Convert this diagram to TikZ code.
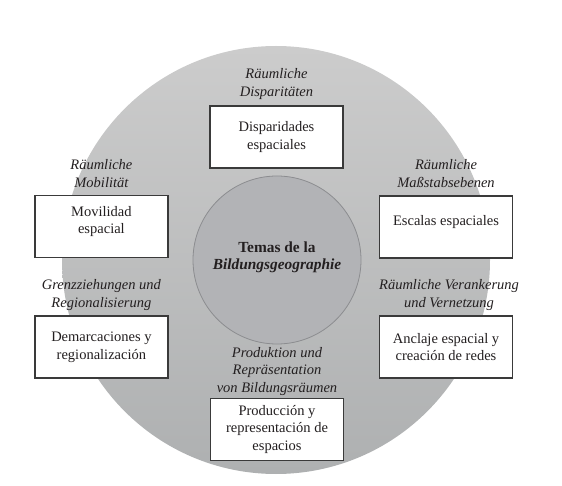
\documentclass[tikz,border=0pt]{standalone}
\usepackage{fontspec}
\setmainfont{Liberation Serif}
\usepackage{xcolor}

\definecolor{ringtop}{HTML}{CCCCCC}
\definecolor{ringbottom}{HTML}{AEB0B1}
\definecolor{coregray}{HTML}{B2B3B6}
\definecolor{coreline}{HTML}{8C8D90}
\definecolor{boxline}{HTML}{3A3A3A}
\definecolor{inkdark}{HTML}{231F20}

\tikzset{
  themabox/.style={draw=boxline, fill=white, line width=1.2pt, minimum width=133pt, minimum height=62pt, inner sep=0pt},
  themtext/.style={align=center, inner sep=0pt, text=inkdark, font=\fontsize{14.5}{17.7}\selectfont},
  keyword/.style={themtext, font=\fontsize{14.5}{17.7}\selectfont\itshape}
}

\begin{document}
\begin{tikzpicture}[x=1pt,y=-1pt]
\useasboundingbox (0,0) rectangle (562,486);

\begin{scope}{
% circles
\shade[top color=ringtop, bottom color=ringbottom] (276,260) circle [radius=214];
\draw[coreline, fill=coregray, line width=0.8pt] (277,260) circle [radius=84];

\node[themtext, font=\fontsize{15.4}{17}\selectfont\bfseries] (core) at (277,257)
  {Temas de la\\\textit{Bildungsgeographie}};

% boxes
{
\node[themabox, themtext] (disp) at (276.5,137) {Disparidades\\espaciales};
\node[themabox] (mob) at (101.4,226.7) {};
\node[themabox] (scale) at (446,227) {};
\node[themabox, themtext] (bound) at (101.4,347) {Demarcaciones y\\regionalización};
\node[themabox, themtext] (anchor) at (446,347) {Anclaje espacial y\\creación de redes};
\node[themabox, themtext] (prod) at (277,429.5) {Producción y\\representación de\\espacios};

\node[themtext] (mobtext) at (101.4,221.5) {Movilidad\\espacial};
\node[themtext] (scaletext) at (446,222) {Escalas espaciales};
}

% labels
{
\node[keyword] (displabel) at (276.5,84) {Räumliche\\Disparitäten};
\node[keyword] (moblabel) at (101.4,173.5) {Räumliche\\Mobilität};
\node[keyword] (scalelabel) at (446,173.5) {Räumliche\\Maßstabsebenen};
\node[keyword] (boundlabel) at (101.4,295) {Grenzziehungen und\\Regionalisierung};
\node[keyword] (anchorlabel) at (449,295) {Räumliche Verankerung\\und Vernetzung};
\node[keyword] (prodlabel) at (277,371.5) {Produktion und\\Repräsentation\\von Bildungsräumen};
}

} \end{scope}

\end{tikzpicture}
\end{document}
